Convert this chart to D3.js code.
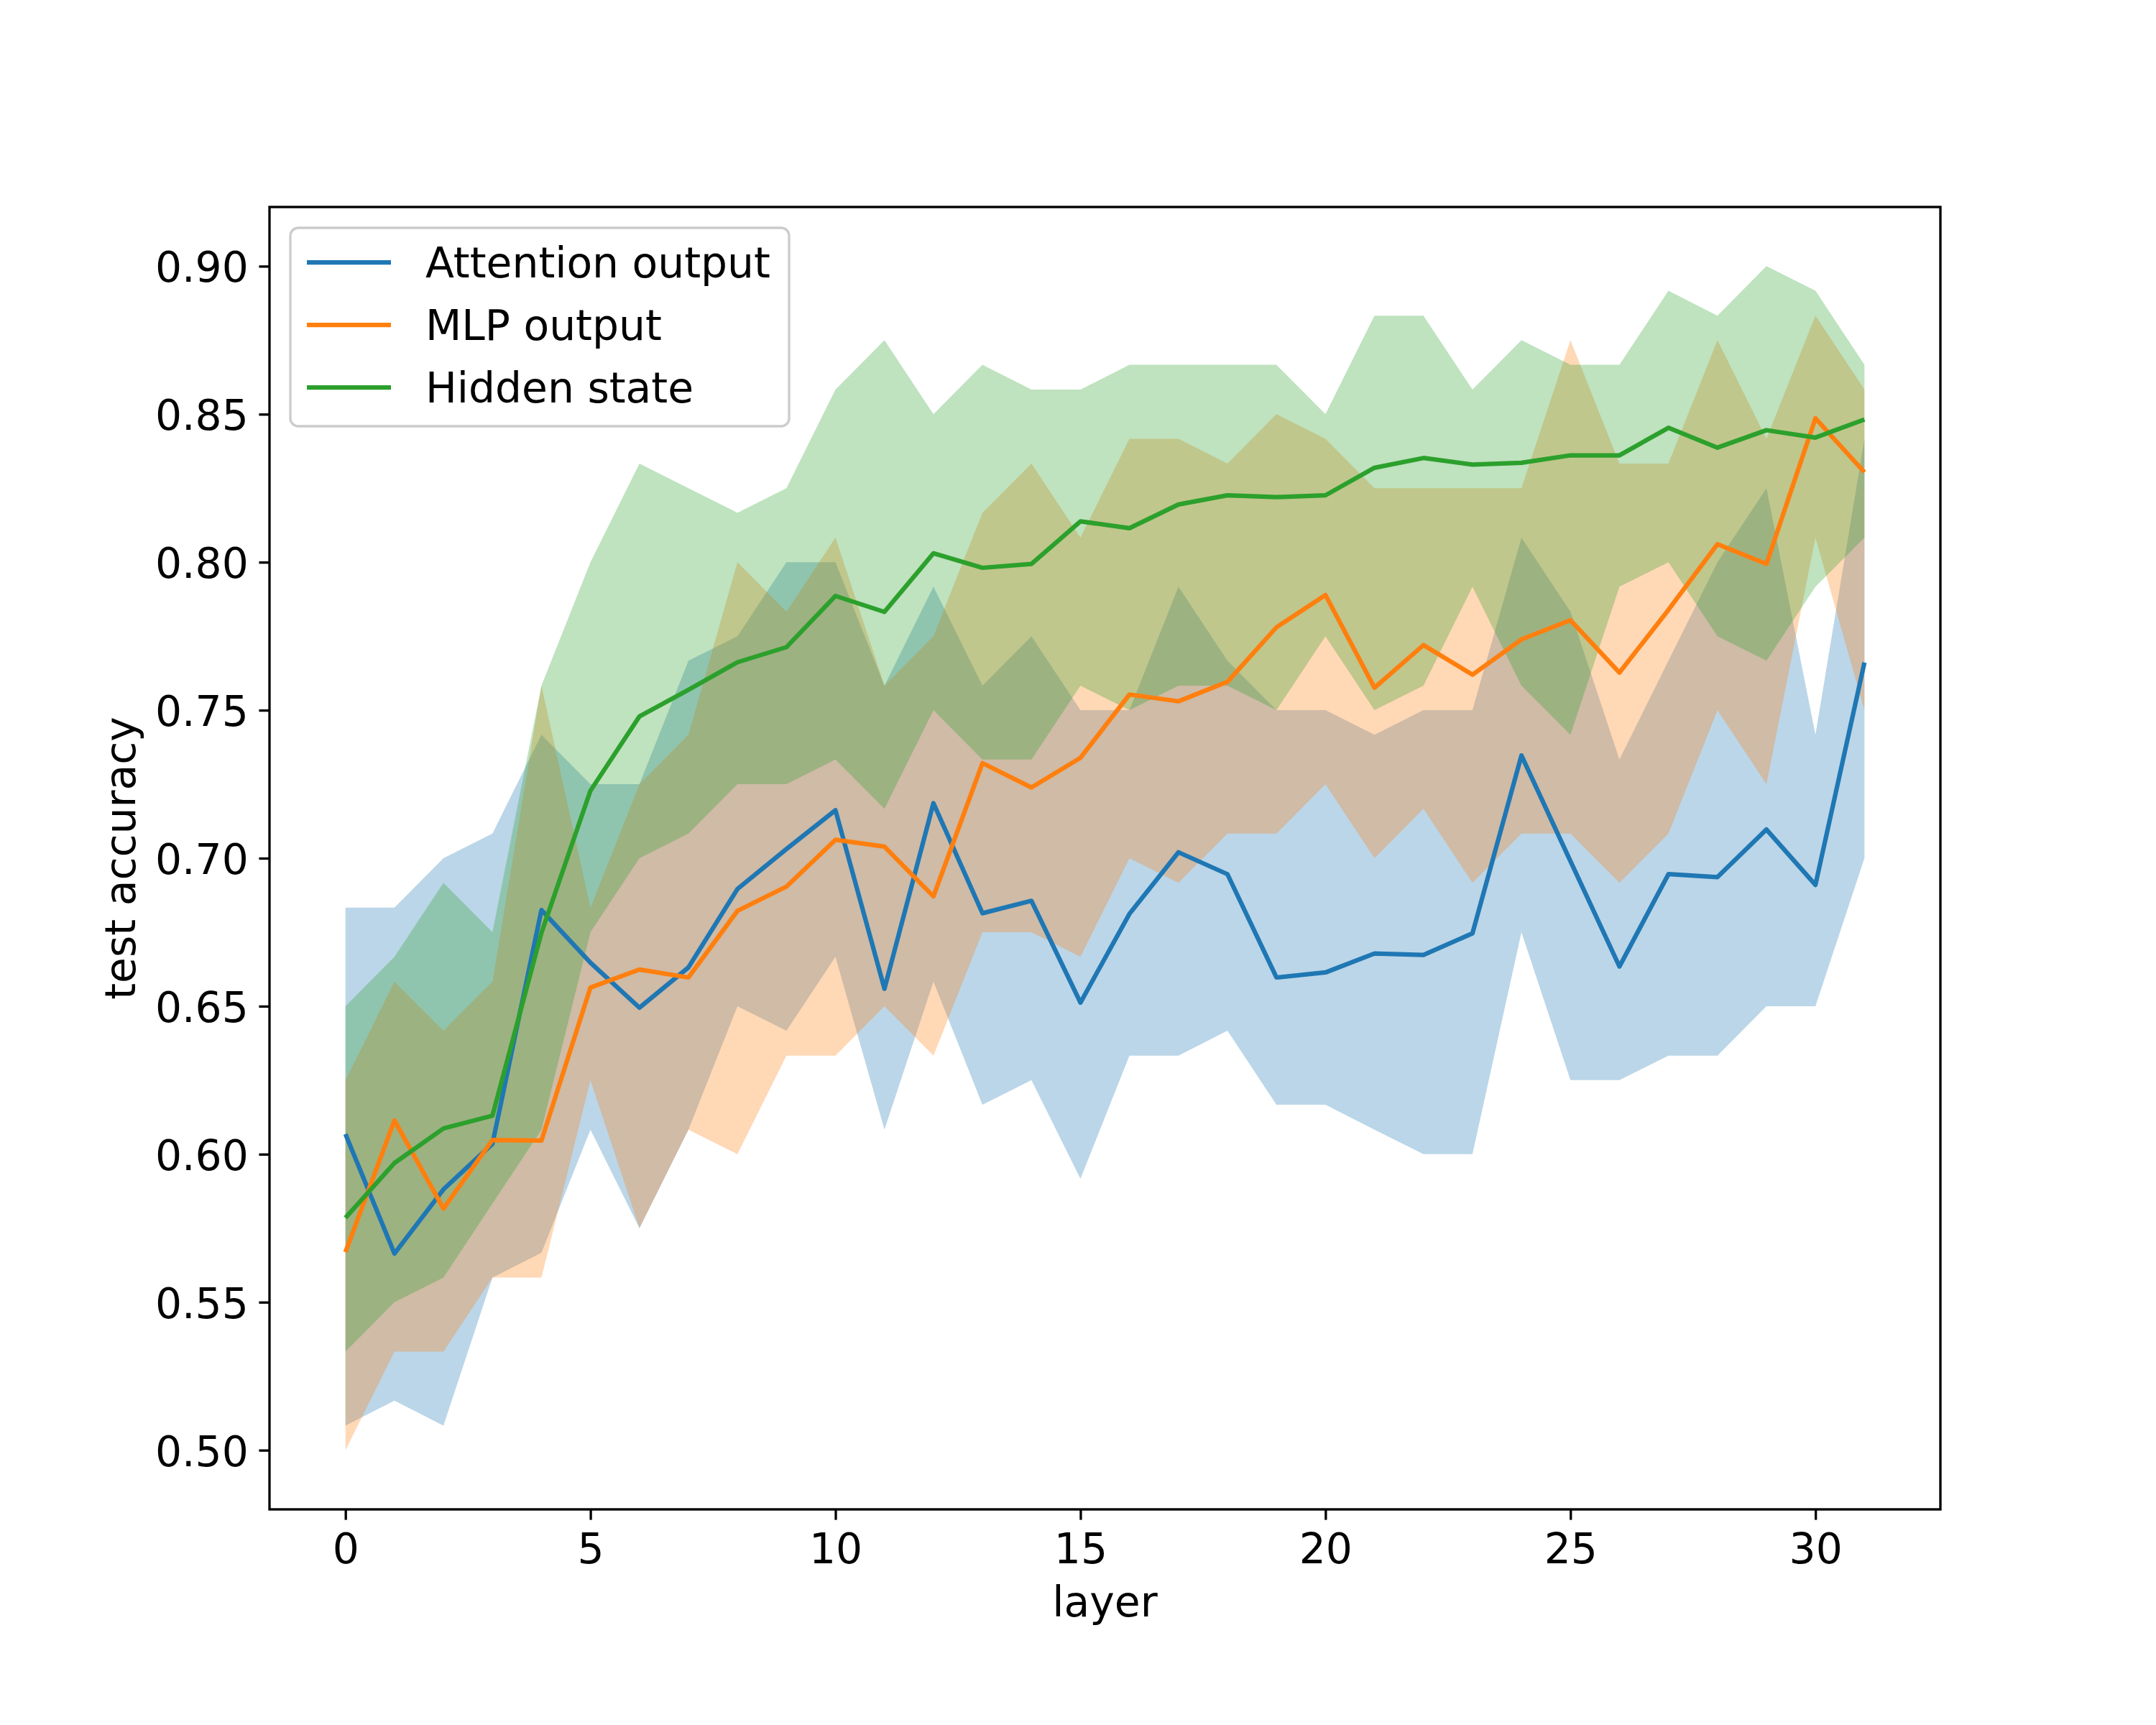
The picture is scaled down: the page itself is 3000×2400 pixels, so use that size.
<!DOCTYPE html>
<html>
<head>
<meta charset="utf-8">
<script src="https://cdn.jsdelivr.net/npm/d3@7/dist/d3.min.js"></script>
<style>
  body { margin: 0; background: #fff; }
  svg { display: block; font-family: "DejaVu Sans", sans-serif; }
</style>
</head>
<body>
<svg id="chart" width="3000" height="2400"></svg>
<script>
// layer index on x
var layers = [0, 1, 2, 3, 4, 5, 6, 7, 8, 9, 10, 11, 12, 13, 14, 15,
              16, 17, 18, 19, 20, 21, 22, 23, 24, 25, 26, 27, 28, 29, 30, 31];

// mean test accuracy per layer
var attnMean = [0.6068, 0.5664, 0.5881, 0.6035, 0.6825, 0.6647, 0.6495, 0.6631,
                0.6896, 0.7031, 0.7162, 0.6559, 0.7186, 0.6814, 0.6856, 0.6512,
                0.6812, 0.7020, 0.6946, 0.6597, 0.6614, 0.6678, 0.6673, 0.6746,
                0.7347, 0.6990, 0.6634, 0.6946, 0.6936, 0.7097, 0.6910, 0.7661];
var mlpMean  = [0.5669, 0.6114, 0.5816, 0.6048, 0.6046, 0.6563, 0.6624, 0.6597,
                0.6822, 0.6904, 0.7062, 0.7039, 0.6871, 0.7321, 0.7239, 0.7339,
                0.7553, 0.7530, 0.7596, 0.7780, 0.7889, 0.7576, 0.7720, 0.7620,
                0.7739, 0.7804, 0.7627, 0.7839, 0.8061, 0.7994, 0.8486, 0.8304];
var hidMean  = [0.5785, 0.5970, 0.6087, 0.6130, 0.6748, 0.7228, 0.7479, 0.7569,
                0.7662, 0.7713, 0.7886, 0.7832, 0.8030, 0.7981, 0.7994, 0.8138,
                0.8115, 0.8195, 0.8226, 0.8220, 0.8226, 0.8319, 0.8352, 0.8330,
                0.8336, 0.8361, 0.8361, 0.8454, 0.8387, 0.8446, 0.8421, 0.8482];

// min / max over runs (shaded bands)
var attnLow  = [0.5083, 0.5167, 0.5083, 0.5583, 0.5667, 0.6083, 0.5750, 0.6083,
                0.6500, 0.6417, 0.6667, 0.6083, 0.6583, 0.6167, 0.6250, 0.5917,
                0.6333, 0.6333, 0.6417, 0.6167, 0.6167, 0.6083, 0.6000, 0.6000,
                0.6750, 0.6250, 0.6250, 0.6333, 0.6333, 0.6500, 0.6500, 0.7000];
var attnHigh = [0.6833, 0.6833, 0.7000, 0.7083, 0.7417, 0.7250, 0.7250, 0.7667,
                0.7750, 0.8000, 0.8000, 0.7583, 0.7917, 0.7583, 0.7750, 0.7500,
                0.7500, 0.7917, 0.7667, 0.7500, 0.7500, 0.7417, 0.7500, 0.7500,
                0.8083, 0.7833, 0.7333, 0.7667, 0.8000, 0.8250, 0.7417, 0.8417];
var mlpLow   = [0.5000, 0.5333, 0.5333, 0.5583, 0.5583, 0.6250, 0.5750, 0.6083,
                0.6000, 0.6333, 0.6333, 0.6500, 0.6333, 0.6750, 0.6750, 0.6667,
                0.7000, 0.6917, 0.7083, 0.7083, 0.7250, 0.7000, 0.7167, 0.6917,
                0.7083, 0.7083, 0.6917, 0.7083, 0.7500, 0.7250, 0.8083, 0.7500];
var mlpHigh  = [0.6250, 0.6583, 0.6417, 0.6583, 0.7583, 0.6833, 0.7250, 0.7417,
                0.8000, 0.7833, 0.8083, 0.7583, 0.7750, 0.8167, 0.8333, 0.8083,
                0.8417, 0.8417, 0.8333, 0.8500, 0.8417, 0.8250, 0.8250, 0.8250,
                0.8250, 0.8750, 0.8333, 0.8333, 0.8750, 0.8417, 0.8833, 0.8583];
var hidLow   = [0.5333, 0.5500, 0.5583, 0.5833, 0.6083, 0.6750, 0.7000, 0.7083,
                0.7250, 0.7250, 0.7333, 0.7167, 0.7500, 0.7333, 0.7333, 0.7583,
                0.7500, 0.7583, 0.7583, 0.7500, 0.7750, 0.7500, 0.7583, 0.7917,
                0.7583, 0.7417, 0.7917, 0.8000, 0.7750, 0.7667, 0.7917, 0.8083];
var hidHigh  = [0.6500, 0.6667, 0.6917, 0.6750, 0.7583, 0.8000, 0.8333, 0.8250,
                0.8167, 0.8250, 0.8583, 0.8750, 0.8500, 0.8667, 0.8583, 0.8583,
                0.8667, 0.8667, 0.8667, 0.8667, 0.8500, 0.8833, 0.8833, 0.8583,
                0.8750, 0.8667, 0.8667, 0.8917, 0.8833, 0.9000, 0.8917, 0.8667];

var xTicks = [0, 5, 10, 15, 20, 25, 30];
var yTicks = [0.50, 0.55, 0.60, 0.65, 0.70, 0.75, 0.80, 0.85, 0.90];

var seriesNames = ["Attention output", "MLP output", "Hidden state"];
var colors = ["#1f77b4", "#ff7f0e", "#2ca02c"];

var series = [
  { name: seriesNames[0], mean: attnMean, low: attnLow, high: attnHigh, color: colors[0] },
  { name: seriesNames[1], mean: mlpMean,  low: mlpLow,  high: mlpHigh,  color: colors[1] },
  { name: seriesNames[2], mean: hidMean,  low: hidLow,  high: hidHigh,  color: colors[2] }
];

var fs = 58.3;            // 14pt at 300 dpi
var box = { left: 375, right: 2700, top: 288, bottom: 2100 };

var svg = d3.select("#chart");
svg.append("rect").attr("width", 3000).attr("height", 2400).attr("fill", "#fff");

var x = d3.scaleLinear().domain([-1.55, 32.55]).range([box.left, box.right]);
var y = d3.scaleLinear().domain([0.48, 0.92]).range([box.bottom, box.top]);

// bands first, lines on top (like matplotlib zorder)
var bands = svg.append("g");
series.forEach(s => {
  var area = d3.area()
    .x((d, i) => x(layers[i]))
    .y0((d, i) => y(s.low[i]))
    .y1((d, i) => y(s.high[i]));
  bands.append("path")
    .datum(s.mean)
    .attr("d", area)
    .attr("fill", s.color)
    .attr("fill-opacity", 0.3);
});

var lines = svg.append("g");
series.forEach(s => {
  var line = d3.line()
    .x((d, i) => x(layers[i]))
    .y(d => y(d));
  lines.append("path")
    .datum(s.mean)
    .attr("d", line)
    .attr("fill", "none")
    .attr("stroke", s.color)
    .attr("stroke-width", 6.25)
    .attr("stroke-linejoin", "round")
    .attr("stroke-linecap", "butt");
});

// axes
var xAxis = d3.axisBottom(x).tickValues(xTicks).tickFormat(d3.format("d"))
  .tickSize(14.6).tickSizeOuter(0).tickPadding(19);
var yAxis = d3.axisLeft(y).tickValues(yTicks).tickFormat(d3.format(".2f"))
  .tickSize(14.6).tickSizeOuter(0).tickPadding(14.6);

var gx = svg.append("g").attr("transform", "translate(0," + box.bottom + ")").call(xAxis);
var gy = svg.append("g").attr("transform", "translate(" + box.left + ",0)").call(yAxis);

[gx, gy].forEach(g => {
  g.select(".domain").remove();
  g.selectAll(".tick line").attr("stroke", "#000").attr("stroke-width", 3.33);
  g.selectAll(".tick text")
    .attr("fill", "#000")
    .style("font-size", fs + "px")
    .style("font-family", "DejaVu Sans");
});
gy.selectAll(".tick text").attr("dy", "0.37em");

// frame
svg.append("rect")
  .attr("x", box.left).attr("y", box.top)
  .attr("width", box.right - box.left).attr("height", box.bottom - box.top)
  .attr("fill", "none").attr("stroke", "#000").attr("stroke-width", 3.33);

// axis labels
svg.append("text")
  .attr("x", (box.left + box.right) / 2).attr("y", 2249)
  .attr("text-anchor", "middle")
  .style("font-size", fs + "px")
  .text("layer");

svg.append("text")
  .attr("transform", "translate(188," + ((box.top + box.bottom) / 2) + ") rotate(-90)")
  .attr("text-anchor", "middle")
  .style("font-size", fs + "px")
  .text("test accuracy");

// legend
var leg = svg.append("g");
leg.append("rect")
  .attr("x", 404).attr("y", 317).attr("width", 694).attr("height", 276)
  .attr("rx", 11).attr("ry", 11)
  .attr("fill", "#fff").attr("fill-opacity", 0.8)
  .attr("stroke", "#cccccc").attr("stroke-width", 3.33);

series.forEach((s, i) => {
  var cy = 365 + i * 87;
  leg.append("line")
    .attr("x1", 427).attr("x2", 544)
    .attr("y1", cy).attr("y2", cy)
    .attr("stroke", s.color).attr("stroke-width", 6.25);
  leg.append("text")
    .attr("x", 592).attr("y", cy + 21)
    .style("font-size", fs + "px")
    .text(s.name);
});
</script>
</body>
</html>
